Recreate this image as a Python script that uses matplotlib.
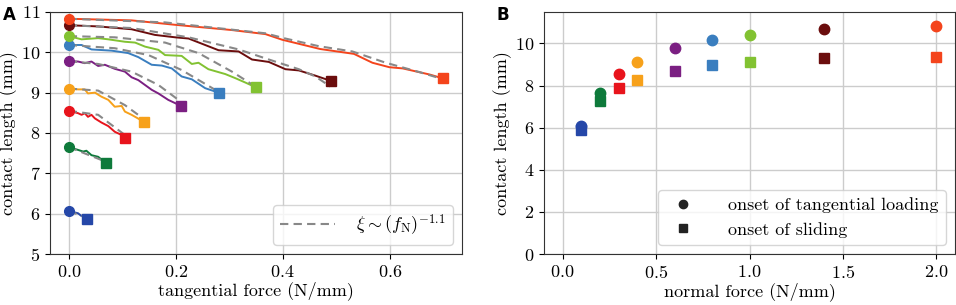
import numpy as np
import matplotlib.pyplot as plt
from matplotlib.lines import Line2D

# Estilo tipo LaTeX
plt.rcParams['font.family'] = 'serif'
plt.rcParams['font.serif'] = ['cmr10']
plt.rcParams['mathtext.fontset'] = 'cm'
plt.rcParams['axes.formatter.use_mathtext'] = True
plt.rcParams['font.size'] = 13

# Datos: fuerza normal y longitudes de contacto
normal_force = [0.1, 0.2, 0.3, 0.4, 0.6, 0.8, 1.0, 1.4, 2.0]
onset_loading = [6.07, 7.65, 8.55, 9.10, 9.78, 10.18, 10.40, 10.67, 10.83]
onset_sliding = [5.88, 7.25, 7.87, 8.28, 8.67, 9.00, 9.13, 9.29, 9.35]
sliding_force = [0.035, 0.07, 0.105, 0.14, 0.21, 0.28, 0.35, 0.49, 0.70]
colors = ['#2547a8', '#0e7a3b', '#e8141c', '#f7a11a', '#7b1f82',
          '#3a7ebf', '#82c232', '#6b0d0d', '#f4441c']

# Curvas medidas (fuerza tangencial, longitud de contacto)
tf_01 = [0, 0.0175, 0.024, 0.03, 0.035]
cl_01 = [6.07, 6.01, 5.94, 5.97, 5.88]
tf_02 = [0, 0.0175, 0.027, 0.033, 0.0425, 0.055, 0.07]
cl_02 = [7.65, 7.58, 7.54, 7.56, 7.45, 7.41, 7.25]
tf_03 = [0, 0.0175, 0.024, 0.03, 0.036, 0.0425, 0.049, 0.061, 0.074, 0.086, 0.099, 0.105]
cl_03 = [8.55, 8.49, 8.45, 8.49, 8.40, 8.45, 8.36, 8.26, 8.17, 8.03, 7.95, 7.87]
tf_04 = [0, 0.0175, 0.03, 0.036, 0.049, 0.061, 0.074, 0.086, 0.099, 0.105, 0.1175, 0.14]
cl_04 = [9.10, 9.08, 9.08, 8.98, 9.00, 8.90, 8.82, 8.65, 8.67, 8.53, 8.45, 8.28]
tf_06 = [0, 0.0175, 0.03, 0.0425, 0.055, 0.0675, 0.086, 0.105, 0.1175, 0.13,
         0.1425, 0.155, 0.1675, 0.186, 0.21]
cl_06 = [9.78, 9.77, 9.73, 9.77, 9.66, 9.69, 9.59, 9.52, 9.38, 9.31,
         9.19, 9.07, 8.98, 8.82, 8.67]
tf_08 = [0, 0.024, 0.0425, 0.08, 0.111, 0.13, 0.155, 0.174, 0.1925, 0.211, 0.23, 0.255, 0.28]
cl_08 = [10.18, 10.18, 10.07, 10.04, 9.98, 9.88, 9.69, 9.67, 9.60, 9.40, 9.33, 9.11, 9.00]
tf_10 = [0, 0.024, 0.055, 0.074, 0.105, 0.124, 0.1425, 0.1675, 0.18, 0.211, 0.23,
         0.2425, 0.261, 0.2925, 0.311, 0.33, 0.35]
cl_10 = [10.40, 10.32, 10.35, 10.32, 10.26, 10.24, 10.14, 10.06, 9.93, 9.91, 9.71,
         9.74, 9.58, 9.46, 9.36, 9.25, 9.13]
tf_14 = [0, 0.055, 0.1175, 0.161, 0.199, 0.224, 0.28, 0.3175, 0.3425, 0.374,
         0.405, 0.43, 0.461, 0.49]
cl_14 = [10.67, 10.64, 10.57, 10.43, 10.37, 10.34, 10.05, 10.02, 9.82, 9.76,
         9.58, 9.55, 9.42, 9.29]
tf_20 = [0, 0.06, 0.1175, 0.199, 0.305, 0.3675, 0.399, 0.47, 0.533, 0.5675,
         0.599, 0.624, 0.674, 0.70]
cl_20 = [10.83, 10.81, 10.79, 10.68, 10.55, 10.45, 10.31, 10.08, 9.96, 9.74,
         9.63, 9.60, 9.45, 9.35]

# Curvas del modelo (línea discontinua)
mtf_01 = [0, 0.033]
mcl_01 = [6.07, 5.90]
mtf_02 = [0, 0.069]
mcl_02 = [7.65, 7.29]
mtf_03 = [0, 0.055, 0.105]
mcl_03 = [8.55, 8.45, 7.95]
mtf_04 = [0, 0.055, 0.105, 0.139]
mcl_04 = [9.10, 9.05, 8.69, 8.36]
mtf_06 = [0, 0.055, 0.1175, 0.1675, 0.205]
mcl_06 = [9.78, 9.71, 9.52, 9.19, 8.82]
mtf_08 = [0, 0.086, 0.149, 0.211, 0.28]
mcl_08 = [10.18, 10.10, 9.93, 9.56, 9.02]
mtf_10 = [0, 0.086, 0.18, 0.2425, 0.305, 0.349]
mcl_10 = [10.40, 10.37, 10.24, 9.98, 9.52, 9.15]
mtf_14 = [0, 0.1175, 0.224, 0.3175, 0.374, 0.43, 0.461, 0.489]
mcl_14 = [10.67, 10.60, 10.37, 10.07, 9.82, 9.58, 9.40, 9.15]
mtf_20 = [0, 0.18, 0.3675, 0.405, 0.4675, 0.53, 0.5925, 0.655, 0.6925]
mcl_20 = [10.83, 10.74, 10.47, 10.34, 10.15, 10.02, 9.74, 9.51, 9.36]

curves = [(tf_01, cl_01), (tf_02, cl_02), (tf_03, cl_03), (tf_04, cl_04), (tf_06, cl_06),
          (tf_08, cl_08), (tf_10, cl_10), (tf_14, cl_14), (tf_20, cl_20)]
models = [(mtf_01, mcl_01), (mtf_02, mcl_02), (mtf_03, mcl_03), (mtf_04, mcl_04),
          (mtf_06, mcl_06), (mtf_08, mcl_08), (mtf_10, mcl_10), (mtf_14, mcl_14),
          (mtf_20, mcl_20)]

fig = plt.figure(figsize=(9.56, 3.05), dpi=100)
axA = fig.add_axes([0.0523, 0.167, 0.431, 0.794])
axB = fig.add_axes([0.569, 0.167, 0.430, 0.794])

# Panel A
for i in range(len(normal_force)):
    tf, cl = curves[i]
    mtf, mcl = models[i]
    axA.plot(tf, cl, color=colors[i], lw=1.4, zorder=3)
    axA.plot(mtf, mcl, color='#888888', lw=1.5, ls=(0, (4, 2.5)), zorder=4)
    axA.plot(0, onset_loading[i], 'o', color=colors[i], ms=7, zorder=5)
    axA.plot(sliding_force[i], onset_sliding[i], 's', color=colors[i], ms=7, zorder=5)

axA.set_xlim(-0.035, 0.735)
axA.set_ylim(5, 11)
axA.set_xticks([0.0, 0.2, 0.4, 0.6])
axA.set_yticks([5, 6, 7, 8, 9, 10, 11])
axA.set_xlabel('tangential force (N/mm)', labelpad=1)
axA.set_ylabel('contact length (mm)', labelpad=2)
axA.grid(True, color='#cccccc', lw=1)
axA.set_axisbelow(True)
handleA = [Line2D([], [], color='#888888', lw=1.5, ls=(0, (4, 2.5)))]
axA.legend(handleA, [r'$\xi \sim (f_\mathrm{N})^{-1.1}$'], loc='lower right',
           handlelength=3.0, handletextpad=1.2)

# Panel B
for i in range(len(normal_force)):
    axB.plot(normal_force[i], onset_loading[i], 'o', color=colors[i], ms=7.5, zorder=5)
    axB.plot(normal_force[i], onset_sliding[i], 's', color=colors[i], ms=7.5, zorder=5)

axB.set_xlim(-0.1, 2.1)
axB.set_ylim(0, 11.5)
axB.set_xticks([0.0, 0.5, 1.0, 1.5, 2.0])
axB.set_yticks([0, 2, 4, 6, 8, 10])
axB.set_xlabel('normal force (N/mm)', labelpad=1)
axB.set_ylabel('contact length (mm)', labelpad=2)
axB.grid(True, color='#cccccc', lw=1)
axB.set_axisbelow(True)
handlesB = [Line2D([], [], marker='o', ls='', color='#222222', ms=6),
            Line2D([], [], marker='s', ls='', color='#222222', ms=6)]
axB.legend(handlesB, ['onset of tangential loading', 'onset of sliding'],
           loc='lower right', handletextpad=1.5)

for ax in (axA, axB):
    for s in ax.spines.values():
        s.set_color('#333333')

fig.text(0.003, 0.935, 'A', family='DejaVu Sans', weight='bold', fontsize=12)
fig.text(0.519, 0.935, 'B', family='DejaVu Sans', weight='bold', fontsize=12)

fig.savefig('out.png', dpi=100)
